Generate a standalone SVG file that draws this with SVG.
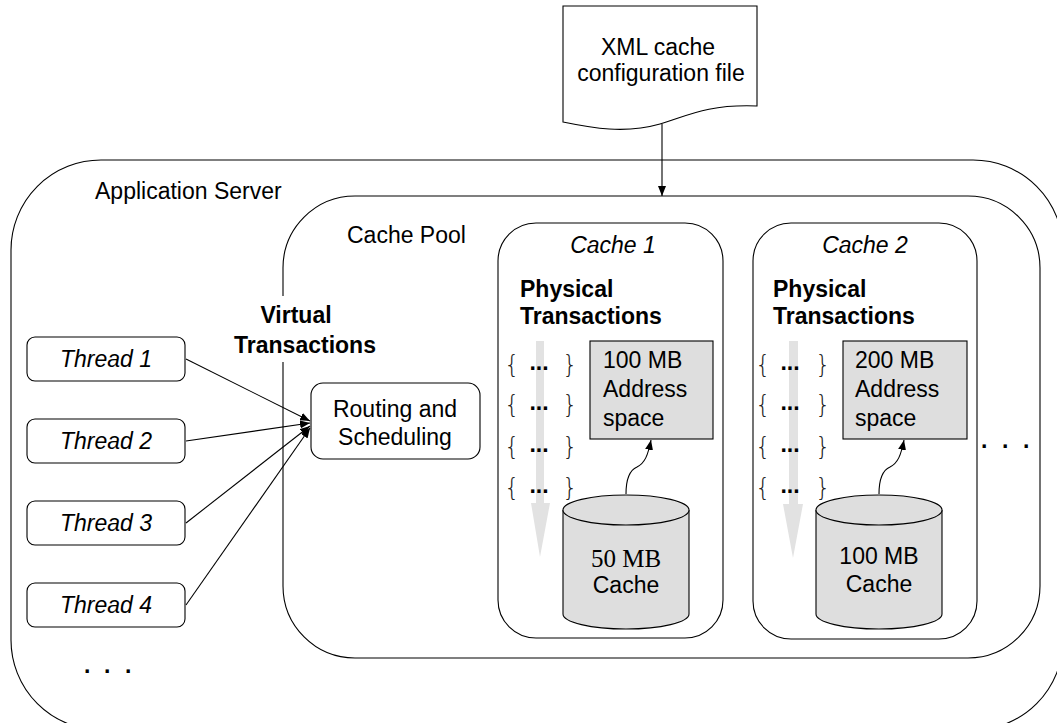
<svg xmlns="http://www.w3.org/2000/svg" width="1057" height="723" viewBox="0 0 1057 723">
  <style>
    .box { fill: #fff; stroke: #000; stroke-width: 1.1; }
    .grey { fill: #dedede; stroke: #000; stroke-width: 1.1; }
    .conn { fill: none; stroke: #000; stroke-width: 1.1; }
    .flow { fill: #e2e2e2; stroke: none; }
    text { font-family: "Liberation Sans", Arial, sans-serif; font-size: 23px; fill: #000; }
    .b { font-weight: bold; }
    .i { font-style: italic; }
    .mid { text-anchor: middle; }
    .serif { font-family: "Liberation Serif", "Times New Roman", serif; }
    .brace { font-family: "DejaVu Sans", sans-serif; font-weight: 200; font-size: 24px; fill: #222; }
  </style>
  <defs>
    <marker id="ah" viewBox="0 0 10 8" refX="10" refY="4" markerWidth="10" markerHeight="8" markerUnits="userSpaceOnUse" orient="auto">
      <path d="M0,0 L10,4 L0,8 z" fill="#000"/>
    </marker>
  </defs>

  <!-- Application Server container -->
  <g id="app-server">
    <rect class="box" x="11" y="160" width="1052" height="570" rx="90" ry="90"/>
    <text x="95" y="199">Application Server</text>
  </g>

  <!-- Cache Pool container -->
  <g id="cache-pool">
    <rect class="box" x="283" y="196" width="757" height="462" rx="72" ry="72"/>
    <text x="347" y="243">Cache Pool</text>
  </g>

  <!-- Virtual transactions label (opaque background) -->
  <g id="virtual-label">
    <rect x="232" y="296" width="148" height="66" fill="#fff"/>
    <text class="b mid" x="296" y="323">Virtual</text>
    <text class="b mid" x="305" y="353">Transactions</text>
  </g>

  <!-- XML configuration document -->
  <g id="xml-config">
    <path class="box" d="M563,6 H757 V106 C705,104 685,117 660,124 C625,134 592,128 563,122 Z"/>
    <text class="mid" x="658" y="55">XML cache</text>
    <text class="mid" x="661" y="81">configuration file</text>
  </g>

  <!-- Threads -->
  <g id="thread-1">
    <rect class="box" x="27" y="337" width="158" height="44" rx="8" ry="8"/>
    <text class="i mid" x="106" y="367">Thread 1</text>
  </g>
  <g id="thread-2">
    <rect class="box" x="27" y="419" width="158" height="44" rx="8" ry="8"/>
    <text class="i mid" x="106" y="449">Thread 2</text>
  </g>
  <g id="thread-3">
    <rect class="box" x="27" y="501" width="158" height="44" rx="8" ry="8"/>
    <text class="i mid" x="106" y="531">Thread 3</text>
  </g>
  <g id="thread-4">
    <rect class="box" x="27" y="583" width="158" height="44" rx="8" ry="8"/>
    <text class="i mid" x="106" y="613">Thread 4</text>
  </g>
  <g id="more-threads">
    <text class="b" x="84 104 125" y="673">...</text>
  </g>

  <!-- Routing and Scheduling -->
  <g id="routing">
    <rect class="box" x="311" y="383" width="169" height="76" rx="12" ry="12"/>
    <text class="mid" x="395" y="417">Routing and</text>
    <text class="mid" x="395" y="445">Scheduling</text>
  </g>

  <!-- Cache 1 -->
  <g id="cache-1">
    <rect class="box" x="498" y="223" width="225" height="415" rx="38" ry="38"/>
    <text class="i mid" x="613" y="253">Cache 1</text>
    <text class="b" x="520" y="297">Physical</text>
    <text class="b" x="520" y="324">Transactions</text>
    <path class="flow" d="M536,341 H544 V503 H550 L540,557 L531,503 H536 Z"/>
    <g>
      <text class="brace mid" x="512" y="373">{</text>
      <text class="brace mid" x="570" y="373">}</text>
      <text class="b mid" x="539" y="370">...</text>
      <text class="brace mid" x="512" y="413">{</text>
      <text class="brace mid" x="570" y="413">}</text>
      <text class="b mid" x="539" y="410">...</text>
      <text class="brace mid" x="512" y="455">{</text>
      <text class="brace mid" x="570" y="455">}</text>
      <text class="b mid" x="539" y="452">...</text>
      <text class="brace mid" x="512" y="496">{</text>
      <text class="brace mid" x="570" y="496">}</text>
      <text class="b mid" x="539" y="493">...</text>
    </g>
    <rect class="grey" x="590" y="341" width="123" height="98"/>
    <text x="603" y="368">100 MB</text>
    <text x="603" y="397">Address</text>
    <text x="603" y="426">space</text>
    <path class="grey" d="M563,510 V614 A63,15 0 0 0 689,614 V510"/>
    <ellipse class="grey" cx="626" cy="510" rx="63" ry="15"/>
    <text class="serif mid" x="626" y="567" style="font-size:25px">50 MB</text>
    <text class="mid" x="626" y="593">Cache</text>
  </g>

  <!-- Cache 2 -->
  <g id="cache-2">
    <rect class="box" x="753" y="223" width="224" height="416" rx="38" ry="38"/>
    <text class="i mid" x="865" y="253">Cache 2</text>
    <text class="b" x="773" y="297">Physical</text>
    <text class="b" x="773" y="324">Transactions</text>
    <path class="flow" d="M789,341 H798 V504 H803 L793,558 L783,504 H789 Z"/>
    <g>
      <text class="brace mid" x="763" y="373">{</text>
      <text class="brace mid" x="823" y="373">}</text>
      <text class="b mid" x="790" y="370">...</text>
      <text class="brace mid" x="763" y="413">{</text>
      <text class="brace mid" x="823" y="413">}</text>
      <text class="b mid" x="790" y="410">...</text>
      <text class="brace mid" x="763" y="455">{</text>
      <text class="brace mid" x="823" y="455">}</text>
      <text class="b mid" x="790" y="452">...</text>
      <text class="brace mid" x="763" y="496">{</text>
      <text class="brace mid" x="823" y="496">}</text>
      <text class="b mid" x="790" y="493">...</text>
    </g>
    <rect class="grey" x="843" y="341" width="124" height="98"/>
    <text x="855" y="368">200 MB</text>
    <text x="855" y="397">Address</text>
    <text x="855" y="426">space</text>
    <path class="grey" d="M816,510 V614 A63,15 0 0 0 942,614 V510"/>
    <ellipse class="grey" cx="879" cy="510" rx="63" ry="15"/>
    <text class="mid" x="879" y="564">100 MB</text>
    <text class="mid" x="879" y="592">Cache</text>
  </g>

  <g id="more-caches">
    <text class="b" x="981 1002 1023" y="448">...</text>
  </g>

  <!-- Connectors -->
  <g id="connectors">
    <line class="conn" x1="662" y1="124" x2="662" y2="196" marker-end="url(#ah)"/>
    <line class="conn" x1="186" y1="359" x2="310" y2="421" marker-end="url(#ah)"/>
    <line class="conn" x1="186" y1="441" x2="310" y2="423" marker-end="url(#ah)"/>
    <line class="conn" x1="186" y1="523" x2="310" y2="426" marker-end="url(#ah)"/>
    <line class="conn" x1="186" y1="605" x2="310" y2="428" marker-end="url(#ah)"/>
    <path class="conn" d="M626,494 C626,478 630,470 637,467 C645,463 648,455 651,440" marker-end="url(#ah)"/>
    <path class="conn" d="M879,494 C879,478 883,470 890,467 C898,463 901,455 904,440" marker-end="url(#ah)"/>
  </g>
</svg>
